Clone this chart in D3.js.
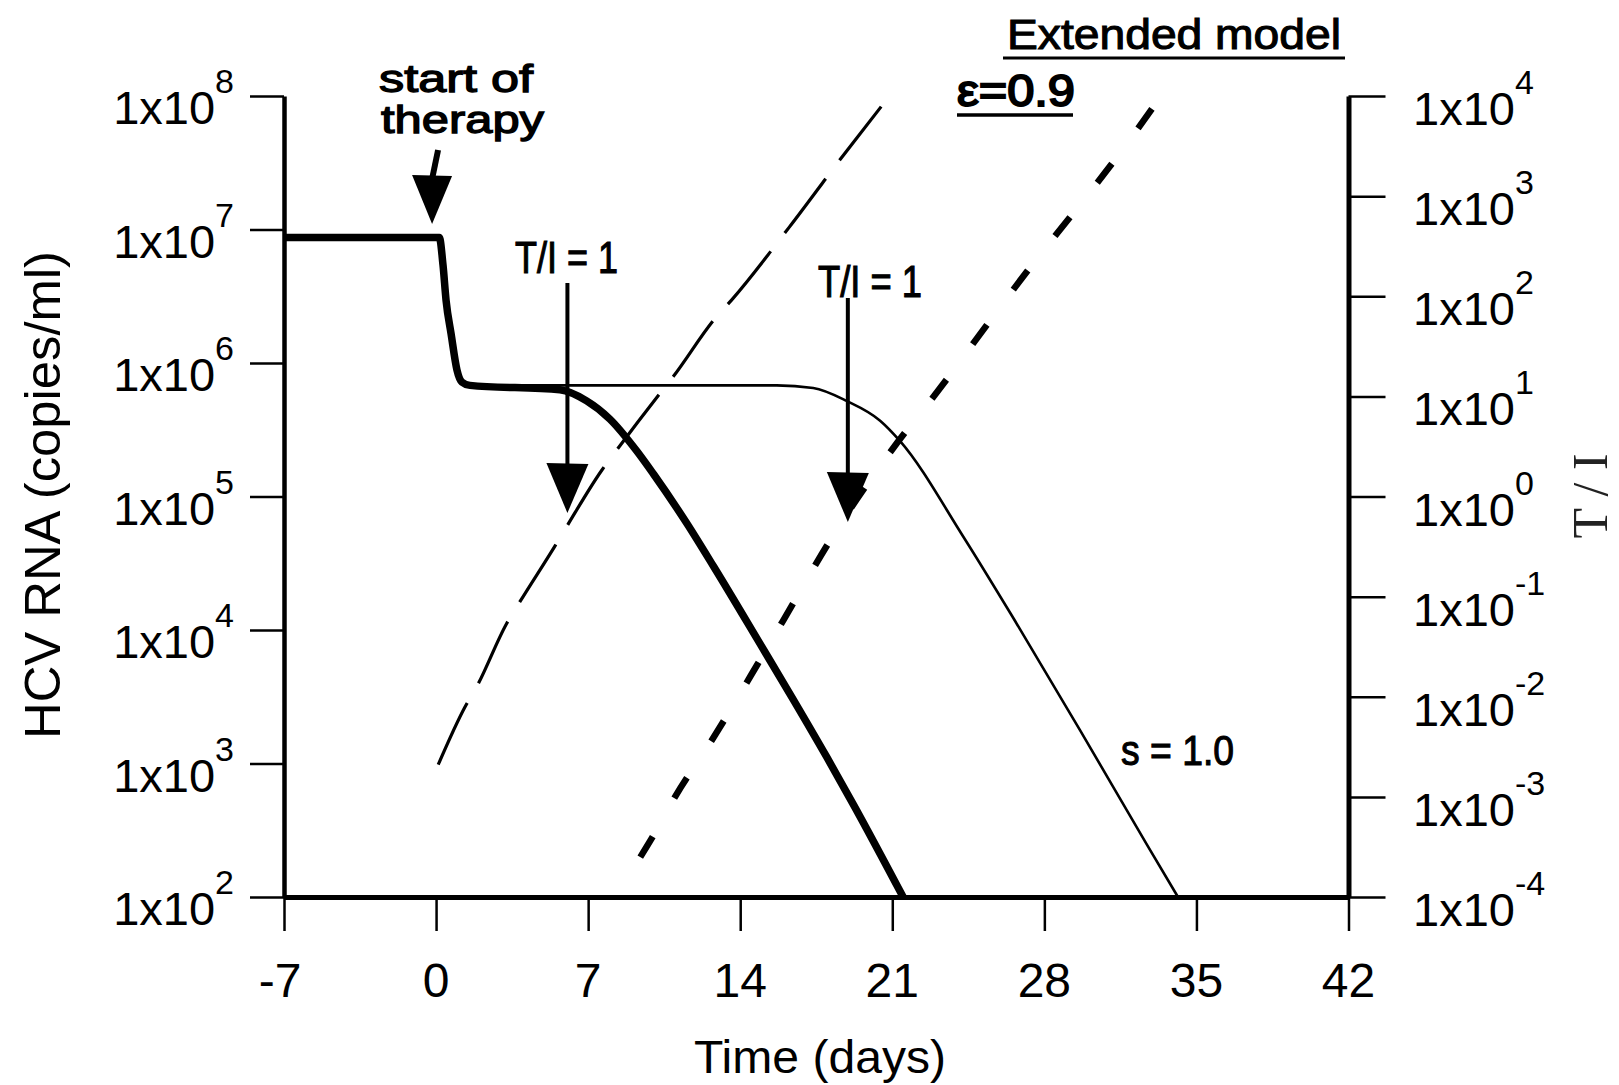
<!DOCTYPE html>
<html>
<head>
<meta charset="utf-8">
<script src="https://cdn.jsdelivr.net/npm/d3@7"></script>
<style>
  html, body { margin: 0; padding: 0; background: #fff; }
  svg { display: block; }
  .tick line { stroke: #000; stroke-width: 2.5; }
  .label { font-family: "Liberation Sans", Arial, sans-serif; fill: #000; }
  .cond { font-family: "Liberation Sans", Arial, sans-serif; fill: #000; stroke: #000; }
</style>
</head>
<body>
<svg id="chart"></svg>
<script>
// time axis (days) and log tick values
const dayTicks = [-7, 0, 7, 14, 21, 28, 35, 42];
const rnaExponents = [2, 3, 4, 5, 6, 7, 8];
const ratioExponents = [-4, -3, -2, -1, 0, 1, 2, 3, 4];

// HCV RNA (copies/ml), thick solid
const rnaThickDays = [-7, 0.15, 0.32, 0.46, 0.69, 0.96, 1.19, 1.56, 5.7, 6.93, 8.0, 9.23, 10.0, 11.54, 12.77, 14.91, 16.45, 17.98, 19.25, 21.5];
const rnaThickValues = [8.7e6, 8.7e6, 5.4e6, 2.95e6, 1.66e6, 8.9e5, 7.2e5, 6.8e5, 6.3e5, 5.2e5, 3.8e5, 2.2e5, 1.48e5, 6.3e4, 3.0e4, 7.9e3, 3.0e3, 1.12e3, 480, 100];

// HCV RNA, thin solid: s = 1.0
const rnaThinDays = [1.56, 15.68, 17.36, 18.9, 20.44, 21.36, 24.27, 26.57, 29.64, 32.7, 34.15];
const rnaThinValues = [6.8e5, 6.8e5, 6.5e5, 5.2e5, 3.7e5, 2.6e5, 5.0e4, 1.23e4, 1.78e3, 250, 100];

// T/I ratio, long dashes
const ratioLongDays = [0.1, 1.33, 1.87, 3.25, 3.86, 5.47, 6.01, 7.62, 8.31, 10.23, 10.92, 12.84, 13.59, 16.26, 18.83, 20.84];
const ratioLongValues = [2.1e-3, 7.9e-3, 1.26e-2, 5.4e-2, 8.9e-2, 0.32, 0.5, 1.82, 2.9, 10.2, 15.8, 60, 91, 490, 2.7e3, 9.8e3];

// T/I ratio, short heavy dashes
const ratioShortDays = [9.4, 10.03, 11.0, 12.7, 14.79, 16.43, 17.98, 21.25, 22.94, 25.42, 27.42, 29.43, 31.43, 33.34];
const ratioShortValues = [2.5e-4, 4.2e-4, 1.0e-3, 3.7e-3, 2.1e-2, 8.5e-2, 0.32, 3.5, 10.2, 54, 204, 720, 2.6e3, 9.8e3];

const width = 1619, height = 1085;
const plotLeft = 284, plotRight = 1348.5, plotTop = 96, plotBottom = 897;

const svg = d3.select("#chart").attr("width", width).attr("height", height);

const x = d3.scaleLinear().domain([-7, 42]).range([plotLeft, plotRight]);
const yL = d3.scaleLog().domain([1e2, 1e8]).range([plotBottom, plotTop]);
const yR = d3.scaleLog().domain([1e-4, 1e4]).range([plotBottom, plotTop]);

// axes
const xAxisG = svg.append("g")
  .attr("transform", "translate(0," + plotBottom + ")")
  .call(d3.axisBottom(x).tickValues(dayTicks).tickSize(34).tickSizeOuter(0).tickFormat(""));
xAxisG.select(".domain").attr("stroke", "#000").attr("stroke-width", 5);

const yLAxisG = svg.append("g")
  .attr("transform", "translate(" + plotLeft + ",0)")
  .call(d3.axisLeft(yL).tickValues(rnaExponents.map(e => Math.pow(10, e))).tickSize(34).tickSizeOuter(0).tickFormat(""));
yLAxisG.select(".domain").attr("stroke", "#000").attr("stroke-width", 4.5);

const yRAxisG = svg.append("g")
  .attr("transform", "translate(" + plotRight + ",0)")
  .call(d3.axisRight(yR).tickValues(ratioExponents.map(e => Math.pow(10, e))).tickSize(37).tickSizeOuter(0).tickFormat(""));
yRAxisG.select(".domain").attr("stroke", "#000").attr("stroke-width", 5);

// tick labels
svg.selectAll(".xlab")
  .data(dayTicks)
  .enter().append("text")
  .attr("class", "label")
  .attr("x", d => x(d) - (d < 0 ? 4 : 0))
  .attr("y", 997)
  .attr("text-anchor", "middle")
  .attr("font-size", 48)
  .text(d => d);

function powerLabel(g, base, exp, anchor) {
  const t = g.append("text")
    .attr("class", "label")
    .attr("font-size", 47)
    .attr("text-anchor", anchor);
  t.append("tspan").text(base);
  t.append("tspan").attr("font-size", 34).attr("dy", -31).text(exp);
  return t;
}

rnaExponents.forEach(e => {
  powerLabel(svg, "1x10", e, "end")
    .attr("x", 234)
    .attr("y", yL(Math.pow(10, e)) + 28);
});
ratioExponents.forEach(e => {
  powerLabel(svg, "1x10", e, "start")
    .attr("x", 1413)
    .attr("y", yR(Math.pow(10, e)) + 29);
});

// axis titles
svg.append("text")
  .attr("class", "label")
  .attr("transform", "translate(60,495) rotate(-90)")
  .attr("text-anchor", "middle")
  .attr("font-size", 50)
  .attr("textLength", 488)
  .attr("lengthAdjust", "spacingAndGlyphs")
  .text("HCV RNA (copies/ml)");

svg.append("text")
  .attr("transform", "translate(1607,496) rotate(-90)")
  .attr("text-anchor", "middle")
  .attr("font-family", "'Liberation Serif', 'Times New Roman', serif")
  .attr("font-size", 50)
  .attr("fill", "#222")
  .attr("textLength", 85)
  .attr("lengthAdjust", "spacingAndGlyphs")
  .text("T / I");

svg.append("text")
  .attr("class", "label")
  .attr("x", 820)
  .attr("y", 1073)
  .attr("text-anchor", "middle")
  .attr("font-size", 47)
  .attr("textLength", 252)
  .attr("lengthAdjust", "spacingAndGlyphs")
  .text("Time (days)");

// curves
const rnaLine = d3.line().x(d => x(d[0])).y(d => yL(d[1])).curve(d3.curveMonotoneX);
const ratioLine = d3.line().x(d => x(d[0])).y(d => yR(d[1])).curve(d3.curveMonotoneX);

const zip = (a, b) => a.map((d, i) => [d, b[i]]);

svg.append("path")
  .datum(zip(rnaThinDays, rnaThinValues))
  .attr("d", rnaLine)
  .attr("fill", "none").attr("stroke", "#000").attr("stroke-width", 2.6);

svg.append("path")
  .datum(zip(rnaThickDays, rnaThickValues))
  .attr("d", rnaLine)
  .attr("fill", "none").attr("stroke", "#000").attr("stroke-width", 7.5)
  .attr("stroke-linejoin", "round");

svg.append("path")
  .datum(zip(ratioLongDays, ratioLongValues))
  .attr("d", ratioLine)
  .attr("fill", "none").attr("stroke", "#000").attr("stroke-width", 3.2)
  .attr("stroke-dasharray", "68,23");

svg.append("path")
  .datum(zip(ratioShortDays, ratioShortValues))
  .attr("d", ratioLine)
  .attr("fill", "none").attr("stroke", "#000").attr("stroke-width", 6.5)
  .attr("stroke-dasharray", "24,44");

// annotations
function downArrow(xTop, yTop, xTip, yTip, headTop, halfW, lw) {
  svg.append("line")
    .attr("x1", xTop).attr("y1", yTop).attr("x2", xTip).attr("y2", headTop + 4)
    .attr("stroke", "#000").attr("stroke-width", lw);
  svg.append("path")
    .attr("d", `M${xTip - halfW},${headTop} L${xTip + halfW},${headTop + 1} L${xTip},${yTip} Z`)
    .attr("fill", "#000");
}

function condText(txt, x0, y0, size, len, weight) {
  return svg.append("text")
    .attr("class", "cond")
    .attr("x", x0).attr("y", y0)
    .attr("font-size", size)
    .attr("stroke-width", weight)
    .attr("textLength", len)
    .attr("lengthAdjust", "spacingAndGlyphs")
    .text(txt);
}

// two-line label over the therapy arrow
const therapy = svg.append("text")
  .attr("class", "cond")
  .attr("font-size", 39)
  .attr("stroke-width", 1.3);
therapy.append("tspan").attr("x", 379).attr("y", 92)
  .attr("textLength", 154).attr("lengthAdjust", "spacingAndGlyphs").text("start of");
therapy.append("tspan").attr("x", 381).attr("y", 133)
  .attr("textLength", 163).attr("lengthAdjust", "spacingAndGlyphs").text("therapy");
downArrow(x(0) + 2, 150, x(0) - 4, 224, 175, 20, 6);

condText("T/I = 1", 515, 273, 44, 103, 1.1);
downArrow(x(6) + 1, 283, x(6) + 1, 513, 463, 21, 4);

condText("T/I = 1", 818, 297, 44, 104, 1.1);
downArrow(x(19) - 1, 298, x(19) - 1, 522, 472, 21, 4);

condText("Extended model", 1007, 49, 43, 334, 1.1);
svg.append("line").attr("x1", 1003).attr("x2", 1345).attr("y1", 58).attr("y2", 58)
  .attr("stroke", "#000").attr("stroke-width", 3);

condText("\u03b5=0.9", 957, 106, 44, 118, 2);
svg.append("line").attr("x1", 957).attr("x2", 1073).attr("y1", 115).attr("y2", 115)
  .attr("stroke", "#000").attr("stroke-width", 3.5);

condText("s = 1.0", 1121, 765, 42, 113, 1.1);
</script>
</body>
</html>
